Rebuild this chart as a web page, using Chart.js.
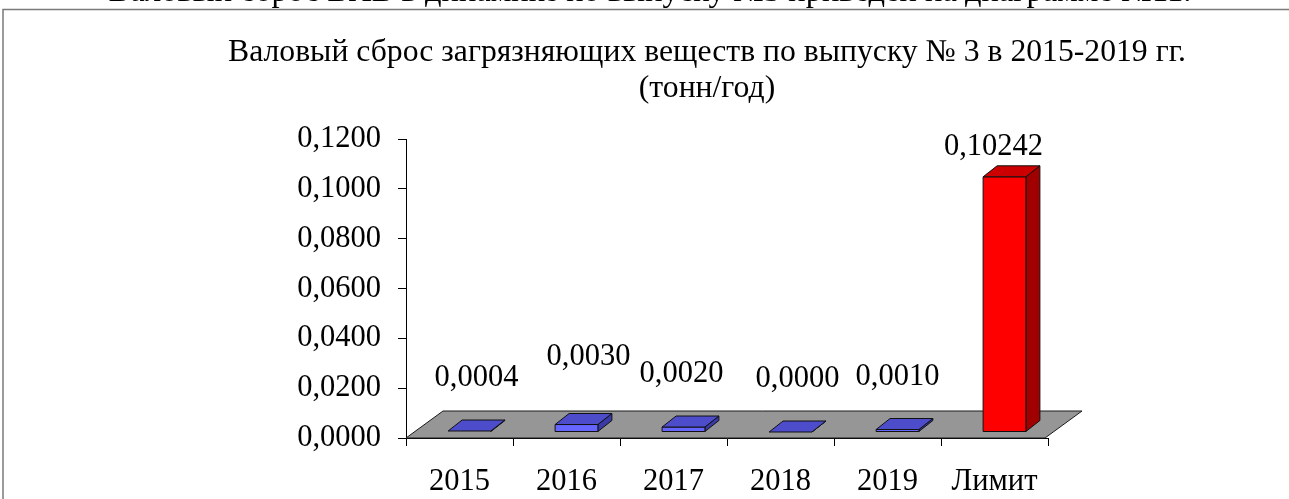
<!DOCTYPE html>
<html>
<head>
<meta charset="utf-8">
<script src="https://cdn.jsdelivr.net/npm/chart.js@4/dist/chart.umd.min.js"></script>
<style>
  html, body { margin: 0; padding: 0; background: #ffffff; overflow: hidden; }
  #wrap { position: relative; width: 1289px; height: 499px; }
  canvas { display: block; }
</style>
</head>
<body>
<div id="wrap"><canvas id="c" width="1289" height="499"></canvas></div>
<script>
// ---- data ----
const categories = ['2015', '2016', '2017', '2018', '2019', 'Лимит'];
const values = [0.0004, 0.0030, 0.0020, 0.0000, 0.0010, 0.10242];
const valueLabels = ['0,0004', '0,0030', '0,0020', '0,0000', '0,0010', '0,10242'];
const yTicks = [0, 0.02, 0.04, 0.06, 0.08, 0.10, 0.12];
const titleLines = ['Валовый сброс загрязняющих веществ по выпуску № 3 в 2015-2019 гг.', '(тонн/год)'];
const headerText = 'Валовый сброс ВХВ в динамике по выпуску №3 приведен на диаграмме №11.';

// ---- styles ----
const FONT = '"Liberation Serif", "Times New Roman", serif';
const blueFaces = { front: '#6666ff', top: '#4d4dcc', side: '#3a3aa6' };
const redFaces = { front: '#ff0000', top: '#cc0000', side: '#a00000' };
const faceColors = [blueFaces, blueFaces, blueFaces, blueFaces, blueFaces, redFaces];
const labelNudge = [[0, 0], [5, -15], [-9, 0], [0, 0], [-7, 0], [-18, 23]];

const fmt = v => v.toFixed(4).replace('.', ',');

const pseudo3d = {
  id: 'pseudo3d',
  beforeDraw(chart) {
    const ctx = chart.ctx;
    ctx.save();
    // header text of the page (cut off at top)
    ctx.fillStyle = '#000';
    ctx.font = '32.5px ' + FONT;
    ctx.textAlign = 'center';
    ctx.textBaseline = 'alphabetic';
    ctx.fillText(headerText, 650, 1);
    // frame
    ctx.strokeStyle = '#7a7a7a';
    ctx.lineWidth = 1.5;
    ctx.beginPath();
    ctx.moveTo(3, 499);
    ctx.lineTo(3, 9.5);
    ctx.lineTo(1289, 9.5);
    ctx.stroke();
    // title
    ctx.font = '31.7px ' + FONT;
    ctx.textBaseline = 'middle';
    ctx.fillText(titleLines[0], 707, 53);
    ctx.fillText(titleLines[1], 707, 89);
    ctx.restore();
  },
  beforeDatasetsDraw(chart) {
    const { ctx, chartArea: a } = chart;
    const dx = 37, dy = -27;
    ctx.save();
    ctx.beginPath();
    ctx.moveTo(a.left, a.bottom);
    ctx.lineTo(a.right - 3, a.bottom);
    ctx.lineTo(a.right - 3 + dx, a.bottom + dy);
    ctx.lineTo(a.left + dx, a.bottom + dy);
    ctx.closePath();
    ctx.fillStyle = '#969696';
    ctx.fill();
    ctx.strokeStyle = '#1a1a1a';
    ctx.lineWidth = 1;
    ctx.stroke();
    ctx.restore();
  },
  afterDatasetsDraw(chart) {
    const ctx = chart.ctx;
    const meta = chart.getDatasetMeta(0);
    const ox = 10, oy = -6, dx = 14, dy = -11;
    ctx.save();
    ctx.lineWidth = 1;
    ctx.strokeStyle = '#111';
    meta.data.forEach((el, i) => {
      const p = el.getProps(['x', 'y', 'base', 'width'], true);
      const c = faceColors[i];
      const l = p.x - p.width / 2 + ox, r = p.x + p.width / 2 + ox;
      const t = p.y + oy, b = p.base + oy;
      // side
      ctx.beginPath();
      ctx.moveTo(r, b); ctx.lineTo(r + dx, b + dy); ctx.lineTo(r + dx, t + dy); ctx.lineTo(r, t);
      ctx.closePath(); ctx.fillStyle = c.side; ctx.fill(); ctx.stroke();
      // front
      if (b - t > 0.5) {
        ctx.beginPath();
        ctx.rect(l, t, r - l, b - t);
        ctx.fillStyle = c.front; ctx.fill(); ctx.stroke();
      }
      // top
      ctx.beginPath();
      ctx.moveTo(l, t); ctx.lineTo(r, t); ctx.lineTo(r + dx, t + dy); ctx.lineTo(l + dx, t + dy);
      ctx.closePath(); ctx.fillStyle = c.top; ctx.fill(); ctx.stroke();
      // value label
      ctx.fillStyle = '#000';
      ctx.font = '30.5px ' + FONT;
      ctx.textAlign = 'center';
      ctx.textBaseline = 'middle';
      ctx.fillText(valueLabels[i], p.x + ox + dx / 2 + labelNudge[i][0], t - 53 + labelNudge[i][1]);
    });
    ctx.restore();
  }
};

new Chart(document.getElementById('c'), {
  type: 'bar',
  data: {
    labels: categories,
    datasets: [{
      data: values,
      backgroundColor: 'rgba(0,0,0,0)',
      borderWidth: 0,
      barPercentage: 0.4,
      categoryPercentage: 1.0
    }]
  },
  options: {
    responsive: false,
    animation: false,
    devicePixelRatio: 1,
    layout: { padding: { top: 139, right: 241, bottom: 0, left: 0 } },
    plugins: { legend: { display: false }, title: { display: false }, tooltip: { enabled: false } },
    scales: {
      x: {
        offset: true,
        grid: { display: true, offset: true, drawOnChartArea: false, drawTicks: true, tickLength: 8, color: '#000' },
        border: { display: true, color: '#000', width: 1 },
        ticks: { color: '#000', font: { family: FONT, size: 30.5 }, padding: 18, maxRotation: 0, autoSkip: false },
        afterFit(s) { s.height = 61; }
      },
      y: {
        min: 0, max: 0.12,
        afterBuildTicks(s) { s.ticks = yTicks.map(v => ({ value: v })); },
        grid: { display: true, drawOnChartArea: false, drawTicks: true, tickLength: 8, color: '#000' },
        border: { display: true, color: '#000', width: 1 },
        ticks: { color: '#000', font: { family: FONT, size: 30.5 }, padding: 17, callback: v => fmt(v) },
        afterFit(s) { s.width = 406; }
      }
    }
  },
  plugins: [pseudo3d]
});
</script>
</body>
</html>
